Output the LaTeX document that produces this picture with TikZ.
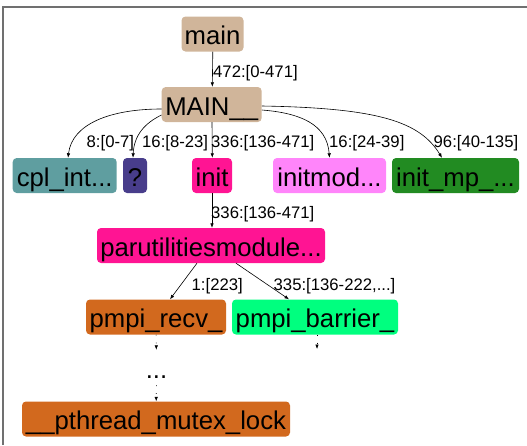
\documentclass[tikz,border=0pt]{standalone}
\usepackage{fontspec}
\setmainfont{Liberation Sans}
\usepackage{tikz}
\usetikzlibrary{arrows.meta}

\definecolor{framegray}{HTML}{707070}
\definecolor{tanfn}{HTML}{D0B59A}
\definecolor{cadetfn}{HTML}{5F9EA0}
\definecolor{slatefn}{HTML}{483D8B}
\definecolor{pinkfn}{HTML}{FF1493}
\definecolor{orchidfn}{HTML}{FF85FA}
\definecolor{forestfn}{HTML}{228B22}
\definecolor{chocofn}{HTML}{D2691E}
\definecolor{springfn}{HTML}{00FF7F}

\begin{document}
\begin{tikzpicture}[x=1pt, y=-1pt, >={Latex[length=4.5pt,width=3.5pt]},
	fn/.style={rounded corners=4pt, inner sep=0pt, minimum height=35pt, text height=22pt, text depth=0.5pt, font=\fontsize{25.7}{30}\selectfont},
	lbl/.style={anchor=base west, inner sep=0pt, font=\fontsize{16.7}{19}\selectfont},
	call/.style={->, line width=0.6pt},
	hidden/.style={->, line width=0.6pt, dash pattern=on 0.8pt off 7pt}]
	\useasboundingbox (0,0) rectangle (527,445);
	\draw[framegray, line width=2pt] (3,445) -- (3,7) -- (527,7);

	\node[fn, fill=tanfn, minimum width=62pt] (main) at (212.5,34) {main};
	\node[fn, fill=tanfn, minimum width=100pt] (MAIN) at (211.7,104.5) {MAIN\_\_};
	\node[fn, fill=cadetfn, minimum width=104pt] (cpl) at (64.7,175.5) {cpl\_int...};
	\node[fn, fill=slatefn, minimum width=24pt] (unknown) at (135,175.5) {?};
	\node[fn, fill=pinkfn, minimum width=40pt] (init) at (212,175.5) {init};
	\node[fn, fill=orchidfn, minimum width=113pt] (initmod) at (329.5,175.5) {initmod...};
	\node[fn, fill=forestfn, minimum width=127pt] (initmp) at (455.5,175.5) {init\_mp\_...};
	\node[fn, fill=pinkfn, minimum width=228pt] (paru) at (211,245.5) {parutilitiesmodule...};
	\node[fn, fill=chocofn, minimum width=140pt] (recv) at (156,317) {pmpi\_recv\_};
	\node[fn, fill=springfn, minimum width=166pt] (barrier) at (315,317) {pmpi\_barrier\_};
	\node[fn, minimum width=30pt] (dots) at (156.5,367.5) {...};
	\node[fn, fill=chocofn, minimum width=268pt] (pthread) at (156,419) {\_\_pthread\_mutex\_lock};
	\coordinate (barrierend) at (317,349);

	% calls
	\path[call]
	([xshift=0.3pt]main.south) edge ([xshift=0.6pt]MAIN.north)
	([xshift=0.3pt]MAIN.south) edge ([xshift=0.3pt]init.north)
	(init.south) edge ([xshift=1pt]paru.south |- paru.north)
	([xshift=-14pt]paru.south) edge ([xshift=14pt]recv.north)
	([xshift=25pt]paru.south) edge ([xshift=-26pt]barrier.north);
	\draw[call] ([yshift=-4.5pt]MAIN.west) .. controls (110,109) and (72,124) .. ([xshift=3.3pt]cpl.north);
	\draw[call] ([yshift=-10.5pt]MAIN.west) .. controls (145,123) and (134,135) .. ([xshift=-2pt]unknown.north);
	\draw[call] ([yshift=-5.5pt]MAIN.east) .. controls (300,113) and (327,124) .. (initmod.north);
	\draw[call] ([yshift=-1.5pt]MAIN.east) .. controls (380,108) and (420,122) .. ([xshift=-13.5pt]initmp.north);

	% elided paths
	\path[hidden]
	(recv) edge (dots)
	(dots) edge (pthread)
	([xshift=2pt]barrier.south) edge (barrierend);

	\node[lbl] (l472) at (213,77) {472:[0-471]};
	\node[lbl] (l8) at (86.5,147) {8:[0-7]};
	\node[lbl] (l16a) at (142,147) {16:[8-23]};
	\node[lbl] (l336a) at (211,147) {336:[136-471]};
	\node[lbl] (l16b) at (329,147) {16:[24-39]};
	\node[lbl] (l96) at (433.5,147) {96:[40-135]};
	\node[lbl] (l336b) at (211,218) {336:[136-471]};
	\node[lbl] (l1) at (191.5,290) {1:[223]};
	\node[lbl] (l335) at (273.5,290) {335:[136-222,...]};
\end{tikzpicture}
\end{document}
